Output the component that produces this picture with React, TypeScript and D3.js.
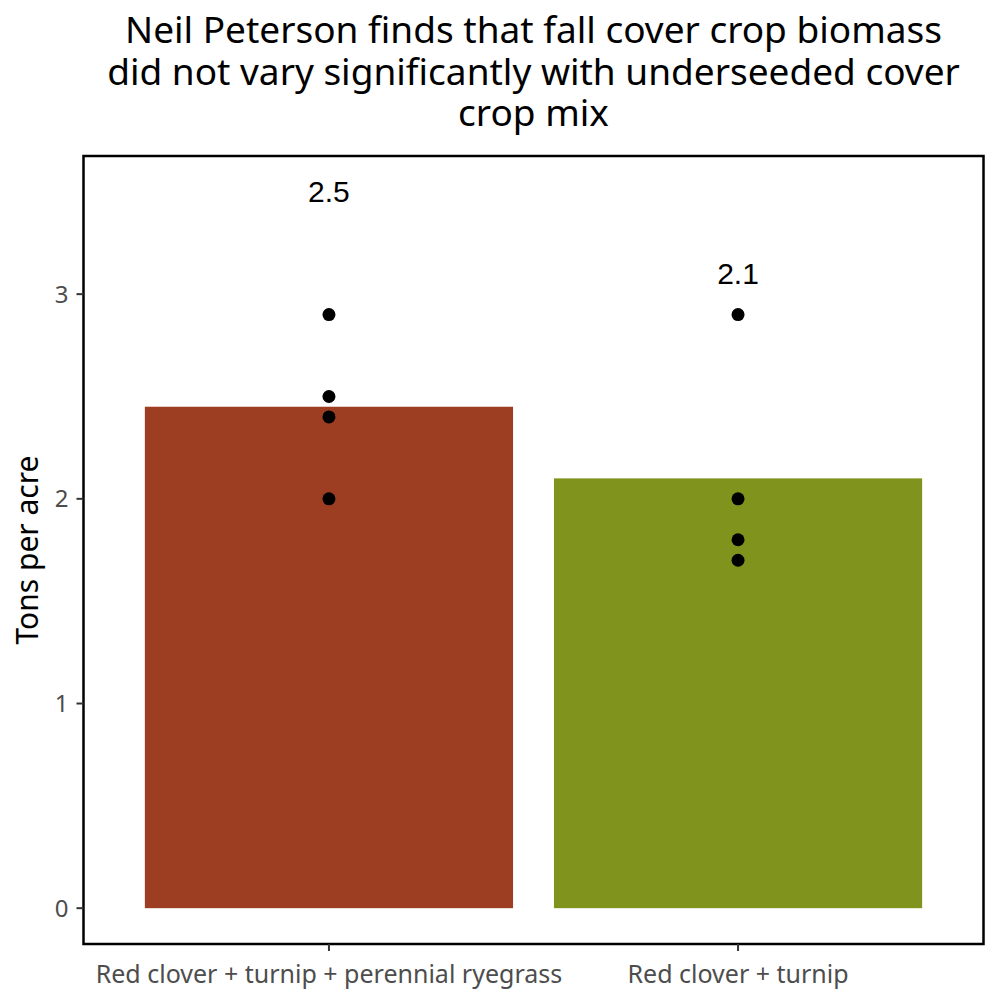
import React from "react";
import * as d3 from "d3";

const categories = ["Red clover + turnip + perennial ryegrass", "Red clover + turnip"];
const meanValues = [2.45, 2.1];
const meanLabels = ["2.5", "2.1"];
const labelPositions = [3.5, 3.1];
const barColors = ["#9D3E23", "#80931D"];
const pointGroups = [
  [2.9, 2.5, 2.4, 2.0],
  [2.9, 2.0, 1.8, 1.7],
];
const yTicks = [0, 1, 2, 3];
const titleLines = [
  "Neil Peterson finds that fall cover crop biomass",
  "did not vary significantly with underseeded cover",
  "crop mix",
];

export default function App() {
  const W = 1000, H = 1000;
  const left = 83.5, right = 983.5, top = 156, bottom = 944;
  const x = d3.scaleBand<string>().domain(categories).range([left, right]).paddingInner(0.1).paddingOuter(0.15);
  const y = d3.scaleLinear().domain([-0.175, 3.675]).range([bottom, top]);
  const bw = x.bandwidth();
  const sans = "'Noto Sans', 'Open Sans', sans-serif";
  const cx = (left + right) / 2;
  return (
    <svg width={W} height={H} style={{ position: "absolute", left: 0, top: 0, background: "#fff" }}>
      <rect x={0} y={0} width={W} height={H} fill="#fff" />
      {titleLines.map((t, i) => (
        <text key={i} x={cx} y={43 + i * 41.5} textAnchor="middle" fontFamily={sans} fontSize={37} fill="#000">{t}</text>
      ))}
      {categories.map((c, i) => (
        <rect key={c} x={x(c)!} y={y(meanValues[i])} width={bw} height={y(0) - y(meanValues[i])} fill={barColors[i]} />
      ))}
      {categories.map((c, i) =>
        pointGroups[i].map((v, j) => (
          <circle key={c + j} cx={x(c)! + bw / 2} cy={y(v)} r={6.5} fill="#000" />
        ))
      )}
      {categories.map((c, i) => (
        <text key={"l" + c} x={x(c)! + bw / 2} y={y(labelPositions[i])} dy="0.35em" textAnchor="middle" fontFamily="'Liberation Sans', Arial, sans-serif" fontSize={30} fill="#000">{meanLabels[i]}</text>
      ))}
      <rect x={left} y={top} width={right - left} height={bottom - top} fill="none" stroke="#000" strokeWidth={2.5} />
      {yTicks.map((t) => (
        <g key={t}>
          <line x1={left - 7} x2={left} y1={y(t)} y2={y(t)} stroke="#333" strokeWidth={2} />
          <text x={left - 15} y={y(t)} dy="0.35em" textAnchor="end" fontFamily={sans} fontSize={24} fill="#4d4d4d">{t}</text>
        </g>
      ))}
      {categories.map((c) => (
        <g key={"x" + c}>
          <line x1={x(c)! + bw / 2} x2={x(c)! + bw / 2} y1={bottom} y2={bottom + 7} stroke="#333" strokeWidth={2} />
          <text x={x(c)! + bw / 2} y={983} textAnchor="middle" fontFamily={sans} fontSize={25} fill="#4d4d4d">{c}</text>
        </g>
      ))}
      <text transform={`translate(${38},${(top + bottom) / 2}) rotate(-90)`} textAnchor="middle" fontFamily={sans} fontSize={30} fill="#000">Tons per acre</text>
    </svg>
  );
}
